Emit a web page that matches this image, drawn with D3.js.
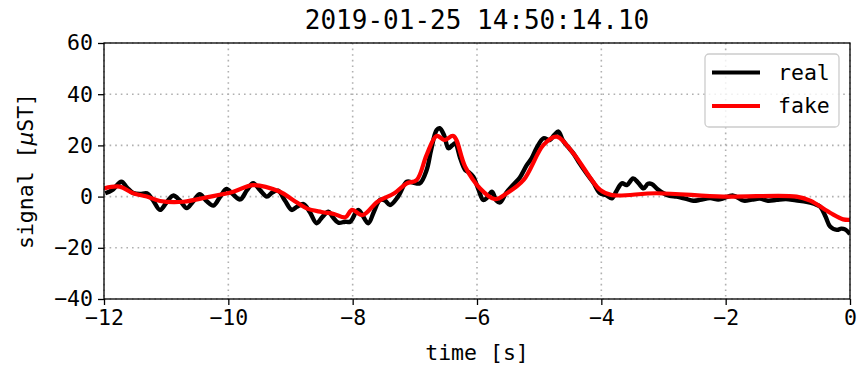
<!DOCTYPE html>
<html><head><meta charset="utf-8">
<script src="https://cdn.jsdelivr.net/npm/d3@7"></script>
<style>body{margin:0;background:#fff}svg{display:block}</style>
</head><body>
<svg id="c" width="866" height="366"></svg>
<script>
const titleText = "2019-01-25 14:50:14.10";
const xTicks = [-12,-10,-8,-6,-4,-2,0];
const yTicks = [-40,-20,0,20,40,60];
const seriesNames = ["real","fake"];

const realT = [-11.98,-11.87,-11.72,-11.63,-11.53,-11.42,-11.31,-11.21,-11.10,-11.0,-10.89,-10.78,-10.67,-10.57,-10.46,-10.36,-10.24,-10.13,-10.03,-9.93,-9.81,-9.70,-9.60,-9.49,-9.38,-9.30,-9.20,-9.09,-8.98,-8.90,-8.79,-8.69,-8.58,-8.49,-8.39,-8.32,-8.23,-8.12,-8.04,-7.91,-7.75,-7.66,-7.56,-7.48,-7.40,-7.27,-7.13,-7.03,-6.92,-6.81,-6.74,-6.65,-6.60,-6.53,-6.46,-6.40,-6.35,-6.27,-6.19,-6.13,-6.06,-5.98,-5.90,-5.84,-5.76,-5.69,-5.63,-5.53,-5.42,-5.31,-5.20,-5.12,-5.04,-4.93,-4.83,-4.76,-4.69,-4.62,-4.54,-4.45,-4.35,-4.24,-4.13,-4.02,-3.92,-3.83,-3.76,-3.67,-3.59,-3.49,-3.41,-3.32,-3.25,-3.19,-3.10,-3.00,-2.90,-2.79,-2.65,-2.52,-2.41,-2.25,-2.12,-2.04,-1.88,-1.71,-1.58,-1.45,-1.32,-1.18,-1.03,-0.87,-0.70,-0.58,-0.48,-0.39,-0.32,-0.21,-0.14,-0.08,0.0];
const realV = [1.3,2.5,5.8,3.5,1.4,1.0,1.3,-1.5,-5.2,-2.5,0.4,-1.5,-4.5,-2,0.9,-1.5,-3.5,0,3,1,-1.1,2.5,5.2,2.5,0,1.5,2.3,-1.5,-5.2,-4,-2.9,-6,-10.4,-8,-5.9,-8,-10.2,-9.8,-9.8,-5.2,-10.4,-6,-1.3,-1.5,-3.3,0,5.8,5.5,5.2,10.4,18,26,26.7,24,18.9,20,20.8,15,10.4,9.5,7.8,3,-1.3,-0.5,1.9,-1.5,-2.3,1.5,4.5,7.5,12.3,15,19,22.8,22.1,24,25.4,22,19.5,16.9,13,9.1,5.5,1.3,0.5,-0.7,2,5.2,4.5,7.1,5.5,3.2,5,4.9,3,1.3,0.3,0,-0.8,-1.6,-1.3,-0.6,-1.2,-0.7,0.4,-1.6,-1.2,-0.8,-1.6,-1.3,-1.0,-1.5,-2,-2.8,-3.9,-8,-11.7,-13,-12.5,-12.8,-14.6];

const fakeT = [-12.0,-11.75,-11.53,-11.31,-11.10,-10.72,-10.35,-9.92,-9.60,-9.17,-8.96,-8.74,-8.50,-8.30,-8.12,-8.01,-7.84,-7.60,-7.33,-7.13,-6.97,-6.81,-6.65,-6.52,-6.38,-6.19,-5.95,-5.71,-5.52,-5.25,-4.93,-4.72,-4.45,-4.02,-3.83,-3.11,-2.04,-0.86,-0.64,-0.32,-0.11,0.0];
const fakeV = [3.2,3.9,1.3,0,-1.7,-2,-0.3,1.9,4.5,1.9,-1.3,-4.6,-6.0,-6.8,-8.1,-5.2,-7.2,-2,1.3,5.2,6.5,16.3,23.7,22.1,23.7,11.7,3.2,-1,1.3,6.5,20.2,23.4,16.9,2.6,0.6,1.3,0,0,-1.6,-6.3,-8.9,-9.1];

const svg = d3.select("#c");
const M = {l:104, r:850, t:43, b:299};
const x = d3.scaleLinear().domain([-12,0]).range([M.l,M.r]);
const y = d3.scaleLinear().domain([-40,60]).range([M.b,M.t]);
const FONT = "'DejaVu Sans Mono', monospace";

// grid
const g = svg.append("g");
g.selectAll(".gx").data(xTicks).join("line")
  .attr("x1",d=>x(d)).attr("x2",d=>x(d)).attr("y1",M.t).attr("y2",M.b)
  .attr("stroke","#b0b0b0").attr("stroke-width",1.6).attr("stroke-dasharray","1.6,4");
g.selectAll(".gy").data(yTicks).join("line")
  .attr("y1",d=>y(d)).attr("y2",d=>y(d)).attr("x1",M.l).attr("x2",M.r)
  .attr("stroke","#b0b0b0").attr("stroke-width",1.6).attr("stroke-dasharray","1.6,4");

svg.append("defs").append("clipPath").attr("id","clip").append("rect")
  .attr("x",M.l).attr("y",M.t).attr("width",M.r-M.l).attr("height",M.b-M.t);

const realData = realT.map((t,i)=>[t,realV[i]]);
const fakeData = fakeT.map((t,i)=>[t,fakeV[i]]);
const line = d3.line().x(d=>x(d[0])).y(d=>y(d[1])).curve(d3.curveCatmullRom.alpha(0.5));
const pl = svg.append("g").attr("clip-path","url(#clip)");
pl.append("path").attr("d",line(realData)).attr("fill","none").attr("stroke","#000").attr("stroke-width",4.4).attr("stroke-linejoin","round");
pl.append("path").attr("d",line(fakeData)).attr("fill","none").attr("stroke","#ff0000").attr("stroke-width",4.2).attr("stroke-linejoin","round");

// axes
const xa = svg.append("g").attr("transform",`translate(0,${M.b})`)
  .call(d3.axisBottom(x).tickValues(xTicks).tickSize(6).tickPadding(5).tickFormat(d=>d<0?"\u2212"+(-d):d));
const ya = svg.append("g").attr("transform",`translate(${M.l},0)`)
  .call(d3.axisLeft(y).tickValues(yTicks).tickSize(6).tickPadding(5).tickFormat(d=>d<0?"\u2212"+(-d):d));
[xa,ya].forEach(a=>{
  a.select(".domain").remove();
  a.selectAll("line").attr("stroke","#000").attr("stroke-width",1.3);
  a.selectAll("text").attr("font-family",FONT).attr("font-size",21.5).attr("fill","#000");
});
svg.append("rect").attr("x",M.l).attr("y",M.t).attr("width",M.r-M.l).attr("height",M.b-M.t)
  .attr("fill","none").attr("stroke","#000").attr("stroke-width",1.3);

// labels
svg.append("text").attr("x",(M.l+M.r)/2).attr("y",29).attr("text-anchor","middle")
  .attr("font-family",FONT).attr("font-size",26).text(titleText);
svg.append("text").attr("x",(M.l+M.r)/2).attr("y",360).attr("text-anchor","middle")
  .attr("font-family",FONT).attr("font-size",21.5).text("time [s]");
const yl = svg.append("text").attr("transform",`translate(33,${(M.t+M.b)/2}) rotate(-90)`).attr("text-anchor","middle")
  .attr("font-family",FONT).attr("font-size",21.5);
yl.append("tspan").text("signal [");
yl.append("tspan").attr("font-family","'DejaVu Sans'").attr("font-style","italic").text("\u03bc");
yl.append("tspan").text("ST]");

// legend
const lg = svg.append("g");
lg.append("rect").attr("x",705).attr("y",54).attr("width",134).attr("height",73).attr("rx",4)
  .attr("fill","#fff").attr("fill-opacity",0.8).attr("stroke","#cccccc").attr("stroke-width",1.3);
const colors = ["#000","#ff0000"];
seriesNames.forEach((n,i)=>{
  const yy = 72.5 + i*33.5;
  lg.append("line").attr("x1",712).attr("x2",760).attr("y1",yy).attr("y2",yy).attr("stroke",colors[i]).attr("stroke-width",4.2);
  lg.append("text").attr("x",778).attr("y",yy+7).attr("font-family",FONT).attr("font-size",21.5).text(n);
});
</script>
</body></html>
